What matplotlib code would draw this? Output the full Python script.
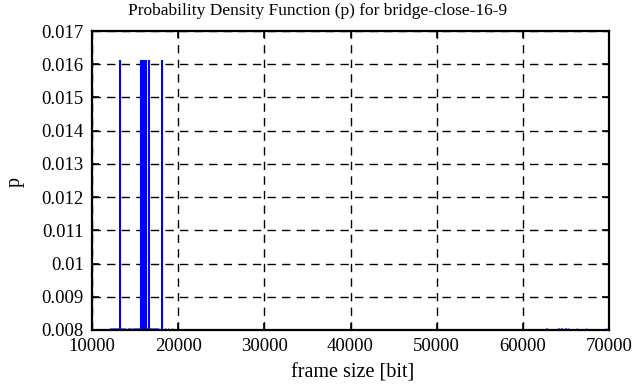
import matplotlib
matplotlib.use("Agg")
import matplotlib.pyplot as plt
import numpy as np

title = "Probability Density Function (p) for bridge-close-16-9"
xlabel = "frame size [bit]"
ylabel = "p"

# tall impulses
tall_x = [13249, 15686, 15802, 15919, 16035, 16151, 16267, 16673, 18124]
tall_p = [0.01613, 0.01613, 0.01613, 0.01613, 0.01613, 0.01613, 0.01613, 0.01613, 0.01613]

# small impulses (mostly below the visible range, appear as stubs at the bottom)
small_x = [12089, 12205, 12321, 12437, 12553, 12669, 12785, 12901, 13017, 13133,
           13366, 13482, 13598, 13714, 13830, 14178, 14294, 14411, 14527, 14759,
           14875, 14991, 15107, 15223, 15339, 15455, 15571, 16383, 16499, 16615,
           16731, 16847, 16963, 17079, 17195, 17311, 17427, 17543, 17659, 18473,
           18821, 19285,
           62700, 62850, 64100, 64250, 64400, 64550, 64900, 65050, 65200, 66300,
           67300, 69650]
small_p = [0.00806] * len(small_x)

xticks = [10000, 20000, 30000, 40000, 50000, 60000, 70000]
yticks = [0.008, 0.009, 0.01, 0.011, 0.012, 0.013, 0.014, 0.015, 0.016, 0.017]
ytick_labels = ["0.008", "0.009", "0.01", "0.011", "0.012", "0.013", "0.014", "0.015", "0.016", "0.017"]

plt.rcParams['font.family'] = ['Liberation Serif', 'DejaVu Serif']

fig = plt.figure(figsize=(6.36, 3.87), dpi=100)
ax = fig.add_axes([92/636, 1 - 330/387, (609-92)/636, (330-31)/387])

ax.vlines(small_x, 0, small_p, colors='#0000ff', linewidth=1.0)
ax.vlines(tall_x, 0, tall_p, colors='#0000ff', linewidth=1.5)

ax.set_xlim(10000, 70000)
ax.set_ylim(0.008, 0.017)
ax.set_xticks(xticks)
ax.set_xticklabels([str(t) for t in xticks])
ax.set_yticks(yticks)
ax.set_yticklabels(ytick_labels)
ax.grid(True, color='black', linestyle=(0, (6, 4.5)), linewidth=1.0)
ax.set_axisbelow(True)
ax.tick_params(direction='in', length=5, width=1.2, labelsize=13.5, top=True, right=True, pad=6)
for s in ax.spines.values():
    s.set_linewidth(1.6)

fig.text(0.5, 1 - 11/387, title, fontsize=12.5, ha='center', va='center')
fig.text(353/636, 1 - 373/387, xlabel, fontsize=14.5, ha='center', va='center')
fig.text(15/636, 1 - 182/387, ylabel, fontsize=14.5, ha='center', va='center', rotation=90)

fig.savefig("out.png", dpi=100)
